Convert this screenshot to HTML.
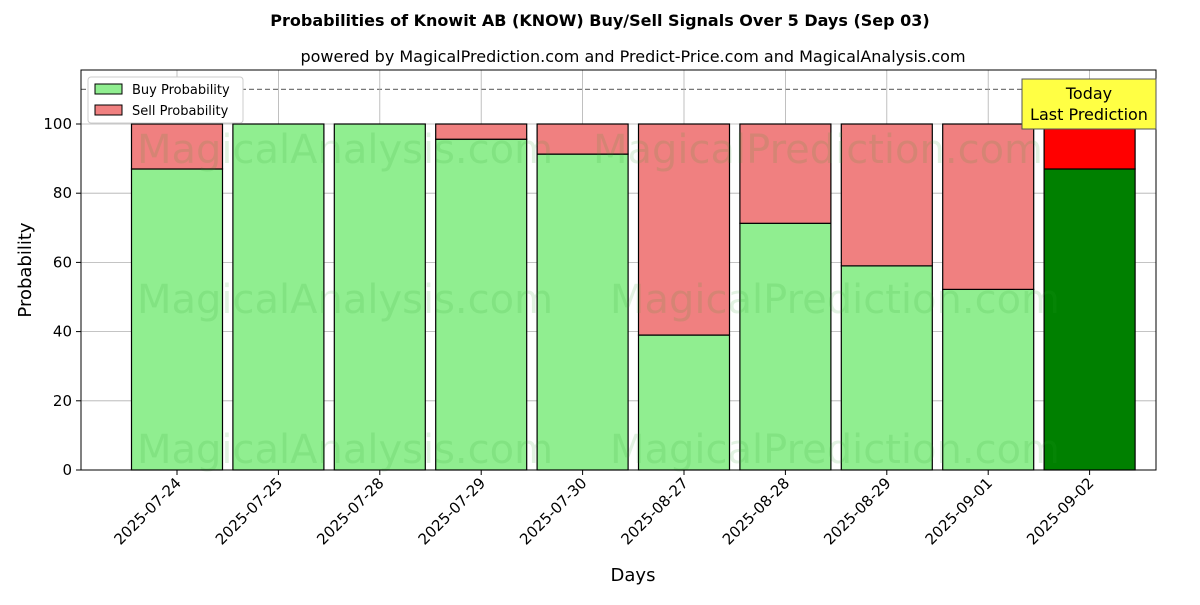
<!DOCTYPE html>
<html><head><meta charset="utf-8"><style>
body{margin:0;background:#fff;font-family:"Liberation Sans","DejaVu Sans",sans-serif}
svg text{font-family:"DejaVu Sans","Liberation Sans",sans-serif}
</style></head><body>
<svg id="c" width="1200" height="600" xmlns="http://www.w3.org/2000/svg">
<text x="600" y="26" text-anchor="middle" font-size="16" font-weight="bold">Probabilities of Knowit AB (KNOW) Buy/Sell Signals Over 5 Days (Sep 03)</text>
<text x="633" y="62" text-anchor="middle" font-size="16">powered by MagicalPrediction.com and Predict-Price.com and MagicalAnalysis.com</text>
<g id="grid"></g><g id="bars"></g>
<g fill="#2ca02c" opacity="0.13" font-size="40">
<text x="345" y="163" text-anchor="middle">MagicalAnalysis.com</text>
<text x="818" y="163" text-anchor="middle">MagicalPrediction.com</text>
<text x="345" y="313" text-anchor="middle">MagicalAnalysis.com</text>
<text x="835" y="313" text-anchor="middle">MagicalPrediction.com</text>
<text x="345" y="463" text-anchor="middle">MagicalAnalysis.com</text>
<text x="835" y="463" text-anchor="middle">MagicalPrediction.com</text>
</g>
<g id="axes"></g>
<text x="633" y="581" text-anchor="middle" font-size="18">Days</text>
<text transform="translate(31,270) rotate(-90)" text-anchor="middle" font-size="18">Probability</text>
<g>
<rect x="88" y="77" width="155" height="46" fill="#fff" stroke="#ccc" rx="3"/>
<rect x="95" y="84" width="27" height="10" fill="#90ee90" stroke="#000"/>
<text x="132" y="94" font-size="13">Buy Probability</text>
<rect x="95" y="105" width="27" height="10" fill="#f08080" stroke="#000"/>
<text x="132" y="115" font-size="13">Sell Probability</text>
</g>
<g>
<rect x="1022" y="79" width="134" height="50" fill="#ffff44" stroke="#555"/>
<text x="1089" y="99" text-anchor="middle" font-size="16">Today</text>
<text x="1089" y="120" text-anchor="middle" font-size="16">Last Prediction</text>
</g>
</svg>
<script>
const categories=["2025-07-24","2025-07-25","2025-07-28","2025-07-29","2025-07-30","2025-08-27","2025-08-28","2025-08-29","2025-09-01","2025-09-02"];
const buyValues=[87,100,100,95.6,91.3,39,71.3,59,52.2,87];
const sellValues=[13,0,0,4.4,8.7,61,28.7,41,47.8,13];
const yTicks=[0,20,40,60,80,100];
const NS="http://www.w3.org/2000/svg";
const L=81,R=1156,T=70,B=470;
const y=v=>B-v*3.46;
const x=i=>177+i*101.4;
const bw=91;
function mk(t,a,p){const e=document.createElementNS(NS,t);for(const k in a)e.setAttribute(k,a[k]);p.appendChild(e);return e;}
const g=document.getElementById('grid'),b=document.getElementById('bars'),ax=document.getElementById('axes');
yTicks.forEach(v=>{
 const l=mk('line',{x1:L,x2:R,y1:y(v),y2:y(v),stroke:'#b0b0b0','stroke-width':0.8},g);
 
 
 mk('line',{x1:L-5,x2:L,y1:y(v),y2:y(v),stroke:'#000'},ax);
 const t=mk('text',{x:L-9,y:y(v)+5,'text-anchor':'end','font-size':15},ax);t.textContent=v;
 
 
});
const dl=mk('line',{x1:L,x2:R,y1:y(110),y2:y(110),stroke:'#777','stroke-dasharray':'5,3','stroke-width':1.2},g);


categories.forEach((c,i)=>{
 const cx=x(i),last=i===categories.length-1;
 mk('line',{x1:cx,x2:cx,y1:T,y2:B,stroke:'#b0b0b0','stroke-width':0.8},g);
 const bb=mk('rect',{x:cx-bw/2,y:y(buyValues[i]),width:bw,height:y(0)-y(buyValues[i]),fill:last?'#008000':'#90ee90',stroke:'#000','stroke-width':1.2},b);
 
 
 const sb=mk('rect',{x:cx-bw/2,y:y(buyValues[i]+sellValues[i]),width:bw,height:y(buyValues[i])-y(buyValues[i]+sellValues[i]),fill:last?'#ff0000':'#f08080',stroke:'#000','stroke-width':1.2},b);
 
 
 mk('line',{x1:cx,x2:cx,y1:B,y2:B+5,stroke:'#000'},ax);
 const t=mk('text',{transform:`translate(${cx+5},${B+14}) rotate(-45)`,'text-anchor':'end','font-size':15},ax);t.textContent=c;
 
 
});
const f=mk('rect',{x:L,y:T,width:R-L,height:B-T,fill:'none',stroke:'#000','stroke-width':1},ax);


</script>
</body></html>
